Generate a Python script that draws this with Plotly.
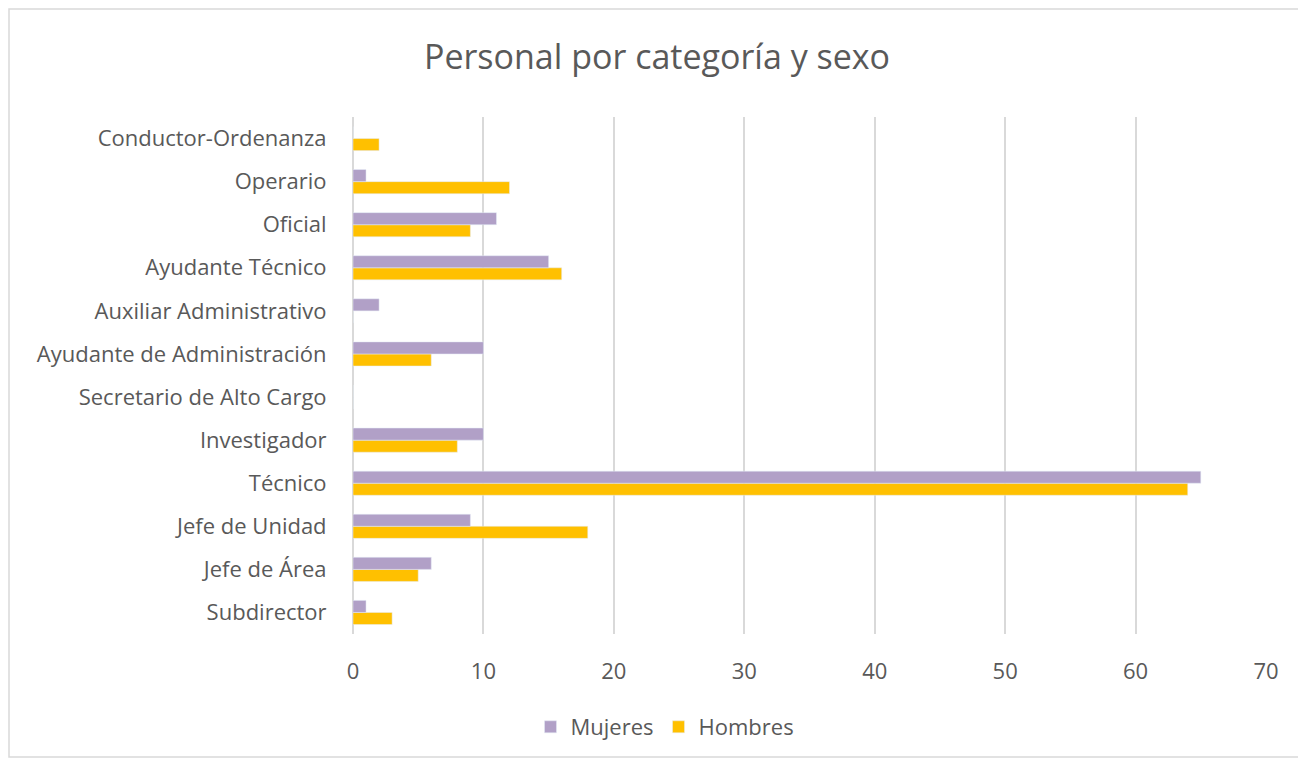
"""Horizontal grouped bar chart: Personal por categoría y sexo."""

import plotly.graph_objects as go

CATEGORIES = [
    "Subdirector",
    "Jefe de Área",
    "Jefe de Unidad",
    "Técnico",
    "Investigador",
    "Secretario de Alto Cargo",
    "Ayudante de Administración",
    "Auxiliar Administrativo",
    "Ayudante Técnico",
    "Oficial",
    "Operario",
    "Conductor-Ordenanza",
]
MUJERES = [1, 6, 9, 65, 10, 0, 10, 2, 15, 11, 1, 0]
HOMBRES = [3, 5, 18, 64, 8, 0, 6, 0, 16, 9, 12, 2]
X_TICKS = [0, 10, 20, 30, 40, 50, 60, 70]

TEXT = "#595959"
GRID = "#D9D9D9"
FONT = "Open Sans"

# the page body has an 8px margin, so the figure is a bit smaller than the window
W, H = 1298, 752
M = {"l": 345, "r": 40, "t": 109, "b": 126}
pw = W - M["l"] - M["r"]
ph = H - M["t"] - M["b"]

fig = go.Figure()
# Hombres first so it sits below Mujeres inside each group
fig.add_trace(go.Bar(y=CATEGORIES, x=HOMBRES, name="Hombres", orientation="h",
                     marker={"color": "#FFC000"}))
fig.add_trace(go.Bar(y=CATEGORIES, x=MUJERES, name="Mujeres", orientation="h",
                     marker={"color": "#B1A0C7"}))

# outer chart frame
fig.add_shape(
    type="rect", xref="paper", yref="paper",
    x0=(1 - M["l"]) / pw, x1=(1295 - M["l"]) / pw,
    y0=(H - M["b"] - 749) / ph, y1=(H - M["b"] - 1) / ph,
    line={"color": GRID, "width": 1.5}, fillcolor="rgba(0,0,0,0)", layer="below",
)

fig.update_layout(
    width=W,
    height=H,
    margin={**M, "autoexpand": False},
    barmode="group",
    bargap=0.44,
    bargroupgap=0,
    paper_bgcolor="white",
    plot_bgcolor="white",
    font={"family": FONT, "color": TEXT, "size": 22},
    title={
        "text": "Personal por categoría y sexo",
        "x": 0.5, "xref": "container", "xanchor": "center",
        "y": 1 - 49 / H, "yanchor": "middle",
        "font": {"size": 34, "color": TEXT, "family": FONT},
    },
    legend={
        "orientation": "h",
        "traceorder": "reversed",
        "x": (657 - M["l"]) / pw, "xanchor": "center",
        "y": -93 / ph, "yanchor": "middle",
        "font": {"size": 22, "color": TEXT},
        "itemwidth": 30,
    },
    showlegend=True,
)
fig.update_xaxes(
    range=[0, 70],
    tickvals=X_TICKS,
    showgrid=True, gridcolor=GRID, gridwidth=2,
    zeroline=True, zerolinecolor=GRID, zerolinewidth=2,
    showline=False,
    ticks="outside", ticklen=18, tickcolor="rgba(0,0,0,0)",
    tickfont={"size": 22, "color": TEXT},
    fixedrange=True,
)
fig.update_yaxes(
    showgrid=False, zeroline=False, showline=False,
    ticks="outside", ticklen=21, tickcolor="rgba(0,0,0,0)",
    tickfont={"size": 22, "color": TEXT},
)

fig.write_html("out.html")
